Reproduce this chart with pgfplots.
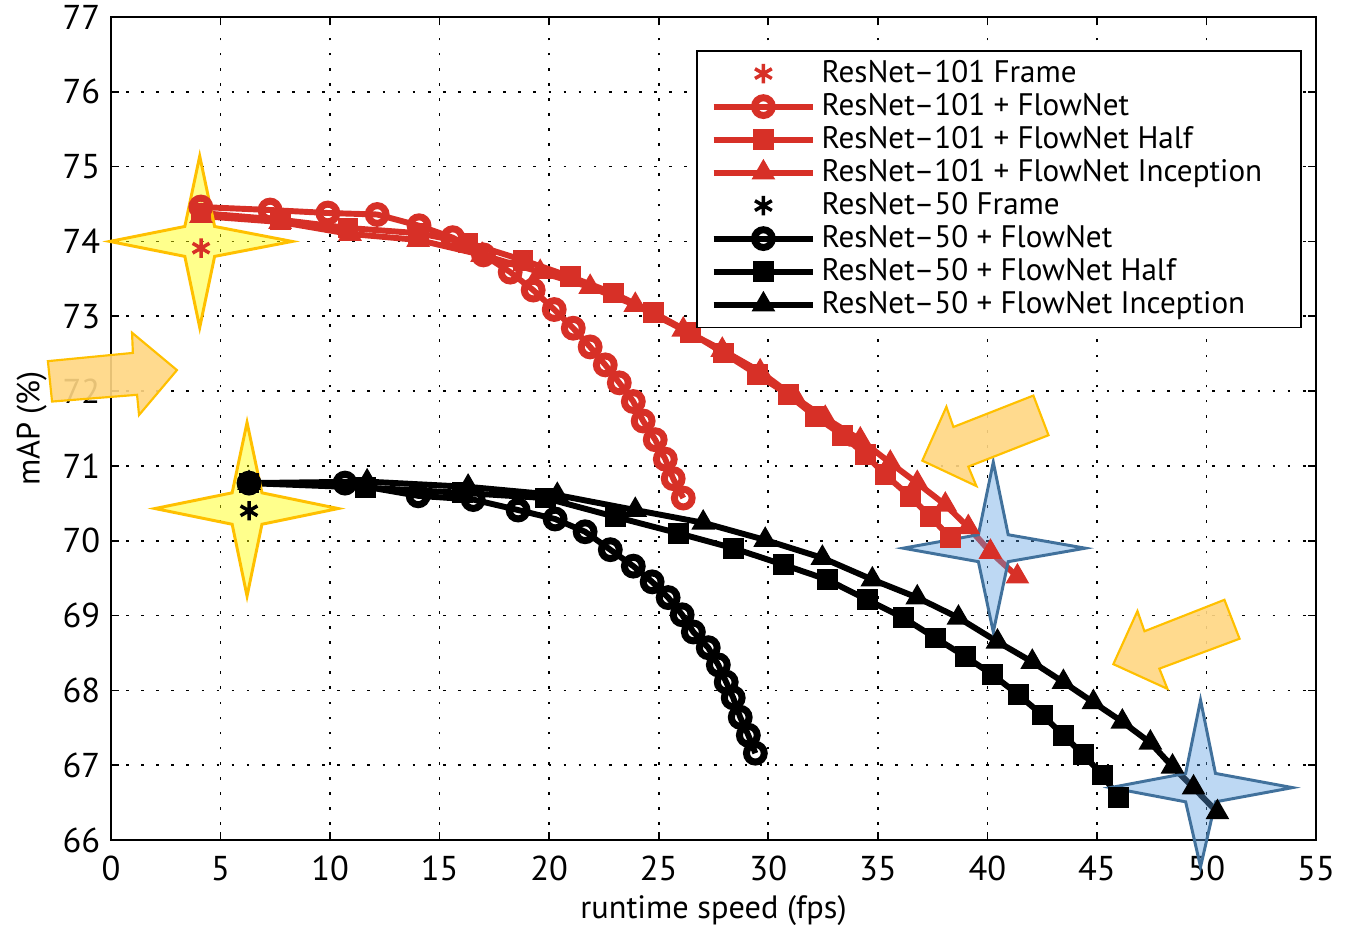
\documentclass[border=0pt]{standalone}
\usepackage{fontspec}
\setmainfont{PT Sans}
\usepackage{pgfplots}
\pgfplotsset{compat=1.18}
\usetikzlibrary{calc}
\definecolor{myred}{RGB}{215,48,39}
\definecolor{staryel}{RGB}{255,255,0}
\definecolor{staryelb}{RGB}{255,192,0}
\definecolor{starblue}{RGB}{90,158,225}
\definecolor{starblueb}{RGB}{65,113,156}
\definecolor{arrowfill}{RGB}{255,214,130}
\begin{document}
\fontsize{11.5pt}{14pt}\selectfont
\begin{tikzpicture}
\begin{axis}[name=ax,
  scale only axis, width=447.3pt, height=305.5pt,
  xmin=0, xmax=55, ymin=66, ymax=77,
  xtick={0,5,...,55}, ytick={66,67,...,77},
  grid=major,
  grid style={black, line width=0.6pt, dash pattern=on 1pt off 4.6pt},
  tick align=inside, major tick length=3pt,
  axis line style={line width=0.6pt},
  every tick/.style={black, line width=0.6pt},
  clip=false,
  xlabel={runtime speed (fps)}, ylabel={mAP (\%)},
  xlabel style={yshift=2.5pt},
  ylabel style={yshift=-2pt},
  xticklabel style={yshift=-2pt},
  /pgf/number format/assume math mode=true,
  tick label style={font=\fontsize{12.8pt}{14pt}\selectfont},
  label style={font=\fontsize{12pt}{14pt}\selectfont},
  legend style={at={(0.9884,0.9599)}, anchor=north east, draw=black, line width=0.6pt,
    font=\fontsize{11.55pt}{12.25pt}\selectfont, inner xsep=5pt, inner ysep=1.5pt,
    row sep=-1.7pt},
  legend cell align=left,
  legend image code/.code={\draw[mark repeat=2,mark phase=2,#1] plot coordinates {(0pt,0pt)(18.5pt,0pt)(37pt,0pt)};},
  every axis plot/.append style={line width=2.2pt},
]
% ResNet-101 Frame
\addplot[myred, only marks, mark=asterisk, mark size=3.6pt, mark options={line width=1.3pt}] coordinates {(4.11,73.91)};
\addlegendentry{ResNet–101 Frame}
% ResNet-101 + FlowNet
\addplot[myred, mark=o, mark size=3.3pt, mark options={fill=white, line width=2.6pt}] coordinates {
(4.10,74.46)(7.26,74.42)(9.90,74.38)(12.15,74.36)(14.06,74.21)(15.60,74.05)(17.00,73.82)
(18.22,73.59)(19.27,73.35)(20.23,73.09)(21.10,72.84)(21.87,72.59)(22.56,72.35)(23.20,72.11)
(23.84,71.86)(24.29,71.60)(24.84,71.35)(25.30,71.09)(25.66,70.83)(26.12,70.57)};
\addlegendentry{ResNet–101 + FlowNet}
% ResNet-101 + FlowNet Half
\addplot[myred, mark=square*, mark size=3.6pt, mark options={line width=0.5pt}] coordinates {
(4.11,74.38)(7.72,74.29)(10.82,74.18)(14.02,74.11)(16.30,73.98)(18.81,73.75)(20.96,73.53)
(22.92,73.31)(24.75,73.05)(26.44,72.78)(27.95,72.51)(29.50,72.22)(30.91,71.95)(32.15,71.66)
(33.38,71.41)(34.43,71.15)(35.34,70.88)(36.48,70.59)(37.40,70.32)(38.31,70.04)};
\addlegendentry{ResNet–101 + FlowNet Half}
% ResNet-101 + FlowNet Inception
\addplot[myred, mark=triangle*, mark size=4.6pt, mark options={line width=0.5pt}] coordinates {
(4.11,74.34)(7.72,74.26)(10.91,74.10)(14.02,74.02)(16.94,73.82)(19.59,73.59)(21.87,73.39)
(23.93,73.15)(26.12,72.82)(27.90,72.55)(29.63,72.26)(31.23,71.91)(32.60,71.64)(34.20,71.35)
(35.57,71.04)(36.80,70.77)(38.08,70.48)(39.13,70.18)(40.14,69.85)(41.37,69.52)};
\addlegendentry{ResNet–101 + FlowNet Inception\hspace*{7.5pt}}
% ResNet-50 Frame
\addplot[black, only marks, mark=asterisk, mark size=3.6pt, mark options={line width=1.3pt}] coordinates {(6.30,70.40)};
\addlegendentry{ResNet–50 Frame}
% ResNet-50 + FlowNet
\addplot[black, mark=o, mark size=3.3pt, mark options={fill=white, line width=2.6pt}] coordinates {
(6.30,70.77)(10.68,70.77)(14.02,70.60)(16.53,70.55)(18.58,70.41)(20.27,70.29)(21.64,70.12)
(22.79,69.88)(23.84,69.66)(24.70,69.45)(25.43,69.24)(26.07,69.01)(26.58,68.78)(27.26,68.57)
(27.72,68.34)(28.08,68.11)(28.40,67.90)(28.72,67.64)(29.09,67.40)(29.41,67.16)};
\addlegendentry{ResNet–50 + FlowNet}
% ResNet-50 + FlowNet Half
\addplot[black, mark=square*, mark size=3.6pt, mark options={line width=0.5pt}] coordinates {
(6.30,70.77)(11.60,70.71)(16.03,70.64)(19.82,70.57)(23.01,70.32)(25.89,70.10)(28.40,69.90)
(30.68,69.68)(32.69,69.48)(34.52,69.21)(36.16,68.97)(37.63,68.70)(39.00,68.45)(40.23,68.21)
(41.42,67.94)(42.51,67.67)(43.47,67.40)(44.38,67.14)(45.25,66.87)(45.98,66.57)};
\addlegendentry{ResNet–50 + FlowNet Half}
% ResNet-50 + FlowNet Inception
\addplot[black, mark=triangle*, mark size=4.6pt, mark options={line width=0.5pt}] coordinates {
(6.30,70.77)(11.69,70.79)(16.30,70.72)(20.37,70.61)(23.93,70.41)(27.03,70.24)(29.86,70.01)
(32.47,69.77)(34.75,69.48)(36.80,69.24)(38.68,68.97)(40.46,68.65)(42.05,68.38)(43.47,68.11)
(44.84,67.84)(46.16,67.58)(47.44,67.30)(48.45,66.98)(49.41,66.70)(50.50,66.37)};
\addlegendentry{ResNet–50 + FlowNet Inception}

% decorations: yellow stars
\filldraw[fill=staryel, fill opacity=0.45, draw=staryelb, line width=1.1pt]
 (4.05,75.14) -- (4.73,74.2) -- (8.27,74.0) -- (4.73,73.8) -- (4.05,72.85) -- (3.37,73.8) -- (-0.05,74.0) -- (3.37,74.2) -- cycle;
\filldraw[fill=staryel, fill opacity=0.45, draw=staryelb, line width=1.1pt]
 (6.21,71.58) -- (6.89,70.64) -- (10.37,70.43) -- (6.89,70.22) -- (6.21,69.26) -- (5.53,70.22) -- (2.01,70.43) -- (5.53,70.64) -- cycle;
% blue stars
\filldraw[fill=starblue, fill opacity=0.4, draw=starblueb, line width=1.1pt]
 (40.27,71.05) -- (40.95,70.08) -- (44.47,69.90) -- (40.95,69.72) -- (40.27,68.78) -- (39.59,69.72) -- (36.16,69.90) -- (39.59,70.08) -- cycle;
\filldraw[fill=starblue, fill opacity=0.4, draw=starblueb, line width=1.1pt]
 (49.73,67.87) -- (50.41,66.89) -- (53.93,66.70) -- (50.41,66.51) -- (49.73,65.64) -- (49.05,66.51) -- (45.62,66.70) -- (49.05,66.89) -- cycle;
% arrows
\filldraw[fill=arrowfill, fill opacity=0.9, draw=staryelb, line width=0.8pt]
 (-2.88,72.40) -- (1.00,72.51) -- (0.96,72.78) -- (3.01,72.28) -- (1.28,71.68) -- (1.19,71.95) -- (-2.69,71.86) -- cycle;
\filldraw[fill=arrowfill, fill opacity=0.9, draw=staryelb, line width=0.8pt]
 (42.10,71.94) -- (42.79,71.41) -- (39.13,70.99) -- (39.50,70.73) -- (37.03,71.07) -- (38.13,71.79) -- (38.45,71.52) -- cycle;
\filldraw[fill=arrowfill, fill opacity=0.9, draw=staryelb, line width=0.8pt]
 (50.82,69.21) -- (51.51,68.69) -- (47.85,68.29) -- (48.22,68.02) -- (45.75,68.35) -- (46.85,69.06) -- (47.17,68.79) -- cycle;
\end{axis}
\pgfresetboundingbox
\path ($(ax.south west)+(-41.2pt,-31.2pt)$) rectangle ($(ax.north east)+(11.5pt,6.3pt)$);
\end{tikzpicture}
\end{document}
